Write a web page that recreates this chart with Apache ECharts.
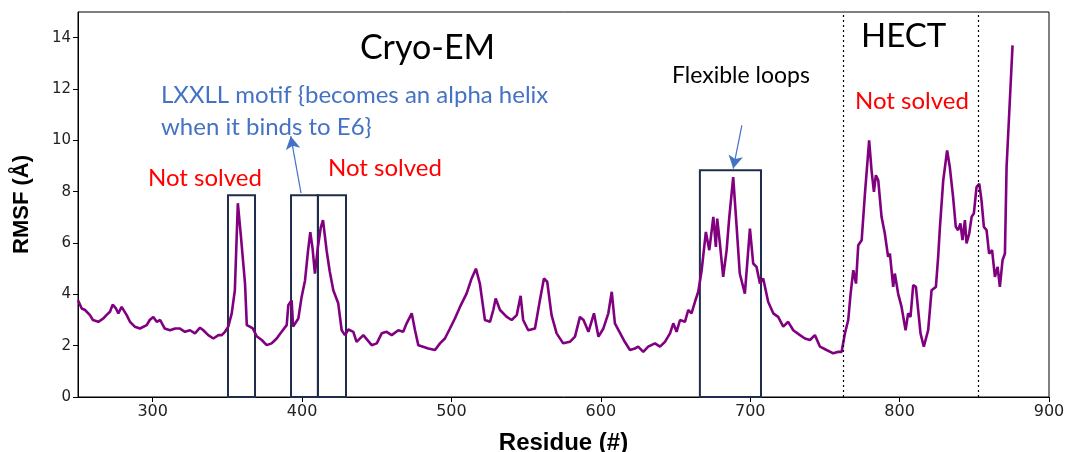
<!DOCTYPE html>
<html>
<head>
<meta charset="utf-8">
<script src="https://cdn.jsdelivr.net/npm/echarts@6/dist/echarts.min.js"></script>
<style>
  html, body { margin: 0; padding: 0; background: #fff; }
  #chart { width: 1069px; height: 452px; }
</style>
</head>
<body>
<div id="chart"></div>
<script>
// residue numbers and RMSF values
const residues = [
  250, 252.5, 254.7, 258, 260, 263.6, 267, 269, 271.4, 273.2, 275.4, 277, 279.2, 282.6, 284.8, 288, 291.5, 296, 298,
  300.4, 302.7, 305, 308, 311.6, 315, 318, 321.6, 325, 328.3, 331.7, 333.9, 337.2, 340.6, 344, 346.2, 348.4, 350.6,
  352.9, 355, 357, 359, 361.8, 363, 365, 367, 369.6, 373, 376.3, 379.6, 383, 386.3, 389.7, 390.8, 393, 394, 397.5,
  399.7, 402, 404, 405.5, 407, 408.6, 410.5, 412.5, 414, 416.4, 418.5, 420.9, 424.2, 426.5, 428.7, 431, 434.3, 436.5,
  441, 446.6, 450, 453.3, 456.6, 460, 464.4, 467.7, 470, 473.4, 475.6, 477.8, 481, 484.5, 489, 492.3, 495.6, 499,
  502.3, 505.7, 510.1, 513.5, 516.4, 519, 522.4, 525.8, 528, 529.6, 532.5, 537, 540.3, 543.7, 546.3, 548, 551.4,
  555.9, 559.2, 561.9, 564.1, 567, 570.4, 574.8, 579.3, 582.7, 586, 588.4, 591.7, 595.4, 598.4, 601.7, 605, 607.3,
  609.4, 612.8, 616, 619.5, 622.8, 625, 628.4, 631.7, 636.2, 639.6, 642.9, 646.3, 648.5, 650.7, 653, 656.3, 658.5,
  660.7, 663, 665.2, 667.5, 670.3, 672.6, 675.3, 677, 677.9, 679.7, 681.9, 684.2, 685.9, 688.6, 690.9, 693, 696.4,
  699.8, 702, 704.2, 706.5, 708.7, 712, 715.4, 718.7, 722.1, 725.4, 728.8, 733.3, 736.6, 740, 743.3, 746.7, 751.1,
  755.6, 759, 761.2, 763.4, 765.6, 767.2, 769, 770.8, 772.3, 774.6, 776.8, 779.6, 781.2, 782.8, 784.1, 785.7, 787.9,
  790.1, 792.3, 793.5, 795.7, 796.8, 799, 801.3, 804, 805.7, 807.3, 809.1, 810.9, 812.4, 814, 816.2, 819.1, 821.4,
  824.3, 825.8, 827, 829.2, 831.8, 833.6, 835.8, 837.6, 839.1, 840.7, 842.1, 843.7, 844.8, 846.6, 848.2, 849.7,
  851.5, 853.3, 854.8, 856.4, 858.2, 859.9, 861.9, 863.8, 865.6, 867.1, 868.9, 870.5, 871.6, 873.8, 875.6
]
const rmsf = [
  3.77, 3.45, 3.39, 3.19, 3.0, 2.93, 3.06, 3.19, 3.32, 3.6, 3.45, 3.26, 3.51, 3.19, 2.93, 2.74, 2.67, 2.8, 3.0,
  3.12, 2.93, 3.0, 2.67, 2.6, 2.67, 2.67, 2.54, 2.6, 2.48, 2.7, 2.6, 2.41, 2.28, 2.41, 2.41, 2.54, 2.74,
  3.26, 4.16, 7.55, 6.3, 4.43, 2.8, 2.74, 2.67, 2.37, 2.22, 2.02, 2.09, 2.28, 2.54, 2.8, 3.58, 3.77, 2.74, 3.06,
  3.9, 4.55, 5.7, 6.42, 5.8, 4.81, 5.8, 6.6, 6.89, 5.72, 4.9, 4.16, 3.65, 2.6, 2.41, 2.63, 2.54, 2.15,
  2.41, 2.02, 2.09, 2.48, 2.54, 2.41, 2.6, 2.54, 2.87, 3.26, 2.6, 2.02, 1.96, 1.89, 1.83, 2.09, 2.28, 2.67,
  3.06, 3.51, 4.03, 4.62, 5.0, 4.42, 3.0, 2.93, 3.39, 3.84, 3.39, 3.12, 3.0, 3.19, 3.94, 3.0, 2.6,
  2.67, 3.77, 4.62, 4.49, 3.19, 2.48, 2.09, 2.15, 2.35, 3.12, 3.0, 2.54, 3.26, 2.35, 2.67, 3.26, 4.1,
  2.87, 2.5, 2.15, 1.83, 1.89, 1.96, 1.76, 1.96, 2.09, 1.96, 2.15, 2.48, 2.87, 2.54, 3.0, 2.93, 3.39,
  3.26, 3.71, 4.1, 4.94, 6.43, 5.72, 7.02, 5.85, 6.95, 5.98, 4.68, 5.72, 6.95, 8.57, 6.63, 4.81, 4.03,
  6.56, 5.2, 5.07, 4.42, 4.62, 3.71, 3.26, 3.12, 2.74, 2.93, 2.6, 2.41, 2.28, 2.22, 2.41, 1.96, 1.83,
  1.7, 1.76, 1.76, 2.48, 3.0, 4.03, 4.94, 4.42, 5.91, 6.11, 7.93, 10.0, 8.83, 7.99, 8.64, 8.44, 7.02,
  6.37, 5.46, 5.59, 4.29, 4.81, 4.03, 3.51, 2.6, 3.26, 3.12, 4.36, 4.29, 3.39, 2.48, 1.96, 2.6, 4.16,
  4.29, 5.46, 6.63, 8.44, 9.61, 8.96, 7.79, 6.63, 6.5, 6.76, 6.11, 6.89, 5.98, 6.37, 7.02, 7.15,
  8.18, 8.31, 7.67, 6.63, 6.5, 5.59, 5.72, 4.68, 5.07, 4.29, 5.33, 5.59, 8.96, 11.56, 13.7
]

const xTicks = [300, 400, 500, 600, 700, 800, 900]
const yTicks = [0, 2, 4, 6, 8, 10, 12, 14]

// boxed regions (residue from / to, box height)
const boxFrom = [350.4, 392.6, 410.6, 666.3]
const boxTo = [368.5, 410.6, 429.4, 707.2]
const boxTop = [7.86, 7.86, 7.86, 8.83]

// HECT domain limits
const hectLimits = [762, 852.4]

// annotation arrows [from, to] in data units
const arrows = [
  [[399.3, 7.94], [392.4, 10.16]],
  [[694.4, 10.58], [688.6, 8.9]]
]

const chart = echarts.init(document.getElementById('chart'))

const labelFont = 'Lato'
const tickFont = 'DejaVu Sans'

let option = {
  animation: false,
  grid: {
    left: 78,
    right: 20,
    top: 12,
    bottom: 55,
    outerBoundsMode: 'none',
    containLabel: false,
    show: true,
    borderColor: '#000',
    borderWidth: 1
  },
  xAxis: {
    type: 'value',
    min: 250,
    max: 900,
    name: 'Residue (#)',
    nameLocation: 'middle',
    nameGap: 34,
    nameTextStyle: {fontFamily: 'Liberation Sans', fontWeight: 'bold', fontSize: 24, color: '#000'},
    axisLine: {show: true, lineStyle: {color: '#000', width: 1}},
    axisTick: {show: true, length: 5, lineStyle: {color: '#000'}, customValues: xTicks},
    axisLabel: {fontFamily: tickFont, fontSize: 16, color: '#222', margin: 7, customValues: xTicks},
    splitLine: {show: false}
  },
  yAxis: {
    type: 'value',
    min: 0,
    max: 15,
    name: 'RMSF (Å)',
    nameLocation: 'middle',
    nameGap: 45,
    nameTextStyle: {fontFamily: 'Liberation Sans', fontWeight: 'bold', fontSize: 22, color: '#000'},
    axisLine: {show: true, lineStyle: {color: '#000', width: 1}},
    axisTick: {show: true, length: 5, lineStyle: {color: '#000'}, customValues: yTicks},
    axisLabel: {fontFamily: tickFont, fontSize: 15, color: '#222', margin: 7, customValues: yTicks},
    splitLine: {show: false}
  },
  series: [
    {
      name: 'RMSF',
      type: 'line',
      data: residues.map((r, i) => [r, rmsf[i]]),
      showSymbol: false,
      lineStyle: {color: '#800080', width: 2.6},
      z: 3,
      markArea: {
        silent: true,
        itemStyle: {color: 'rgba(0,0,0,0)', borderColor: '#1f2d4c', borderWidth: 2},
        data: boxFrom.map((b, i) => [{xAxis: b, yAxis: 0}, {xAxis: boxTo[i], yAxis: boxTop[i]}])
      },
      markLine: {
        silent: true,
        symbol: 'none',
        label: {show: false},
        lineStyle: {color: '#000', type: [2, 3], width: 1.2},
        data: hectLimits.map(v => ({xAxis: v}))
      }
    },
    {
      name: 'arrows',
      type: 'line',
      data: [],
      markLine: {
        silent: true,
        symbol: ['none', 'arrow'],
        symbolSize: [11, 13],
        label: {show: false},
        lineStyle: {color: '#4472C4', type: 'solid', width: 1.2},
        data: arrows.map(a => [{coord: a[0]}, {coord: a[1]}])
      }
    }
  ],
  graphic: [
    {type: 'text', left: 360, top: 31, style: {text: 'Cryo-EM', font: '34px ' + labelFont, fill: '#000'}},
    {type: 'text', left: 861, top: 20, style: {text: 'HECT', font: '33px ' + labelFont, fill: '#000'}},
    {type: 'text', left: 161, top: 79, style: {text: 'LXXLL motif {becomes an alpha helix\nwhen it binds to E6}', font: '24px ' + labelFont, fill: '#4472C4', lineHeight: 32}},
    {type: 'text', left: 148, top: 166, style: {text: 'Not solved', font: '24px ' + labelFont, fill: '#ff0000'}},
    {type: 'text', left: 328, top: 156, style: {text: 'Not solved', font: '24px ' + labelFont, fill: '#ff0000'}},
    {type: 'text', left: 855, top: 89, style: {text: 'Not solved', font: '24px ' + labelFont, fill: '#ff0000'}},
    {type: 'text', left: 672, top: 64, style: {text: 'Flexible loops', font: '23px ' + labelFont, fill: '#000'}}
  ]
}

chart.setOption(option)
</script>
</body>
</html>
